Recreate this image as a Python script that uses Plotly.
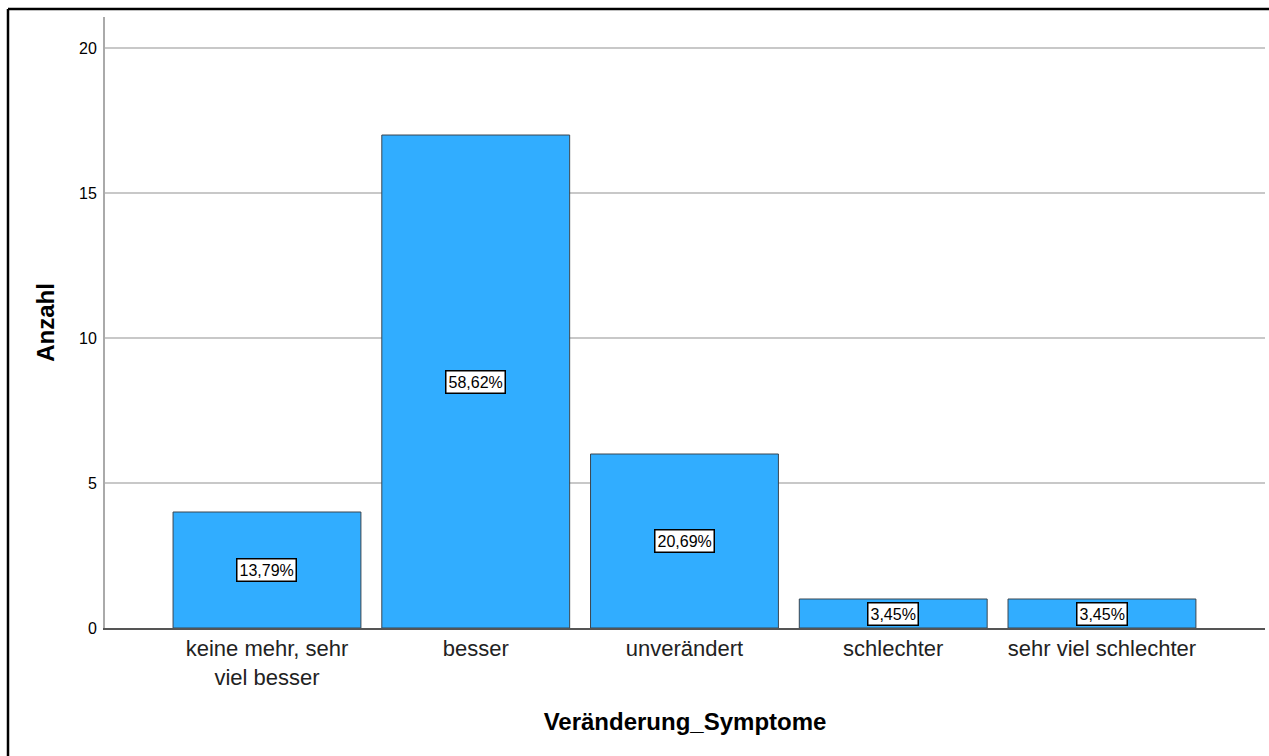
import plotly.graph_objects as go

categories = ["keine mehr, sehr<br>viel besser", "besser", "unverändert", "schlechter", "sehr viel schlechter"]
counts = [4, 17, 6, 1, 1]
pct_labels = ["13,79%", "58,62%", "20,69%", "3,45%", "3,45%"]
y_ticks = [0, 5, 10, 15, 20]

W, H = 1269, 756
L, R, T, B = 105, 4, 17, 128
pw, ph = W - L - R, H - T - B

fig = go.Figure()
fig.add_trace(go.Bar(
    x=list(range(len(categories))), y=counts, width=0.9,
    marker=dict(color="#31ADFF", line=dict(color="#3a4650", width=1)),
    hoverinfo="skip",
))

for i, (c, lab) in enumerate(zip(counts, pct_labels)):
    fig.add_annotation(
        x=i, y=c / 2, text=lab, showarrow=False,
        font=dict(family="Liberation Sans, Arial", size=16, color="#000"),
        bgcolor="white", bordercolor="#000", borderwidth=1.5, borderpad=2,
    )

# outer frame (left and top borders visible)
fx = (8 - L) / pw
fy = (H - B - 9) / ph
fig.add_shape(type="line", xref="paper", yref="paper", x0=fx, x1=fx, y0=-1, y1=fy,
              line=dict(color="#000", width=2.5))
fig.add_shape(type="line", xref="paper", yref="paper", x0=fx, x1=1.5, y0=fy, y1=fy,
              line=dict(color="#000", width=2.5))

fig.update_layout(
    width=W, height=H,
    margin=dict(l=L, r=R, t=T, b=B),
    paper_bgcolor="white", plot_bgcolor="white",
    showlegend=False,
    font=dict(family="Liberation Sans, Arial", color="#000"),
    xaxis=dict(
        tickmode="array", tickvals=list(range(len(categories))), ticktext=categories,
        range=[-0.776, 4.781],
        tickfont=dict(size=22, color="#222"),
        showline=True, linecolor="#555", linewidth=1.5,
        showgrid=False, zeroline=False, ticks="",
        title=dict(text="<b>Veränderung_Symptome</b>", font=dict(size=24, color="#000"), standoff=24),
    ),
    yaxis=dict(
        range=[0, 21.07], tickvals=y_ticks,
        tickfont=dict(size=16, color="#000"),
        showline=True, linecolor="#aaa", linewidth=2,
        showgrid=True, gridcolor="#c8c8c8", gridwidth=1.5,
        zeroline=False, ticks="", ticklabelstandoff=3,
        title=dict(text="<b>Anzahl</b>", font=dict(size=24, color="#000"), standoff=18),
    ),
)

fig.write_html("out.html", config={"displayModeBar": False},
               post_script="document.body.style.margin='0';document.body.style.overflow='hidden';")
